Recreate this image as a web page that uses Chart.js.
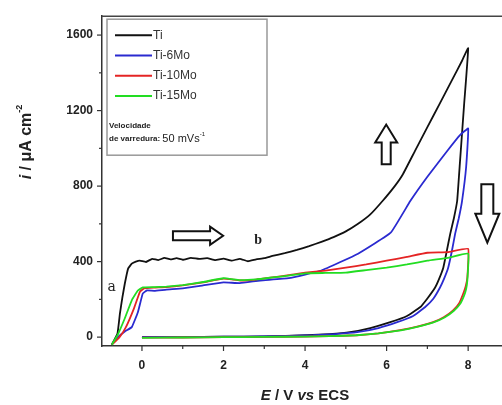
<!DOCTYPE html>
<html>
<head>
<meta charset="utf-8">
<script src="https://cdn.jsdelivr.net/npm/chart.js@4/dist/chart.umd.min.js"></script>
<style>
  html, body { margin: 0; padding: 0; background: #fff; }
  #cv { display: block; }
</style>
</head>
<body>
<canvas id="cv" width="502" height="405"></canvas>
<script>
// series names and colours
const seriesNames = ['Ti', 'Ti-6Mo', 'Ti-10Mo', 'Ti-15Mo'];
const seriesColors = ['#111111', '#2a2ad0', '#e42424', '#22dd22'];

// Ti: forward scan then reverse scan (E in V, i in uA cm-2)
const tiE = [-0.74, -0.6, -0.54, -0.48, -0.42, -0.34, -0.25, -0.15, -0.05, 0.1, 0.25, 0.4, 0.55, 0.7, 0.85, 1.0, 1.2, 1.4, 1.6, 1.8, 2.0, 2.2, 2.4, 2.6, 2.8, 3.0, 3.2, 3.5, 3.8, 4.1, 4.4, 4.7, 5.0, 5.3, 5.6, 5.9, 6.2, 6.4, 6.7, 7.0, 7.3, 7.6, 7.85, 8.0,
  7.9, 7.8, 7.73, 7.65, 7.56, 7.47, 7.39, 7.29, 7.19, 7.0, 6.82, 6.5, 6.09, 5.6, 5.1, 4.6, 4.05, 3.0, 2.0, 1.0, 0.0];
const tiI = [-40, 20, 126, 210, 284, 363, 389, 400, 405, 398, 415, 408, 420, 412, 418, 410, 420, 414, 418, 408, 416, 405, 415, 402, 412, 418, 430, 445, 462, 482, 505, 530, 560, 600, 650, 721, 800, 863, 988, 1112, 1236, 1360, 1464, 1530,
  1230, 930, 721, 630, 547, 450, 368, 310, 263, 205, 158, 112, 79, 48, 26, 16, 10, 4, 2, 0, 0];

// Ti-6Mo
const mo6E = [-0.74, -0.59, -0.42, -0.25, -0.1, 0.02, 0.12, 0.3, 0.6, 1.0, 1.5, 2.0, 2.4, 2.9, 3.6, 4.4, 5.3, 6.1, 6.58, 7.0, 7.5, 7.8, 8.0,
  7.95, 7.85, 7.77, 7.68, 7.6, 7.51, 7.41, 7.31, 7.15, 6.94, 6.65, 6.26, 5.8, 5.28, 4.75, 4.2, 3.0, 2.0, 1.0, 0.0];
const mo6I = [-40, 0, 30, 53, 132, 231, 247, 245, 252, 258, 274, 290, 286, 300, 312, 353, 442, 553, 721, 850, 990, 1070, 1105,
  900, 721, 630, 547, 455, 368, 310, 263, 205, 158, 112, 79, 48, 26, 16, 10, 4, 2, 0, 0];

// Ti-10Mo
const mo10E = [-0.74, -0.55, -0.4, -0.2, -0.05, 0.05, 0.3, 0.6, 1.0, 1.5, 2.0, 2.4, 2.8, 3.2, 3.6, 4.0, 4.5, 5.0, 5.5, 6.0, 6.5, 7.0, 7.5, 8.0,
  7.98, 7.94, 7.88, 7.78, 7.63, 7.4, 7.14, 6.75, 6.33, 5.8, 5.28, 4.6, 4.0, 3.0, 2.0, 1.0, 0.0];
const mo10I = [-40, 0, 50, 150, 240, 258, 262, 265, 274, 290, 310, 300, 305, 316, 328, 342, 352, 368, 385, 405, 425, 447, 450, 468,
  316, 270, 231, 180, 142, 105, 79, 55, 37, 20, 10, 5, 3, 1, 0, -2, -3];

// Ti-15Mo
const mo15E = [-0.74, -0.6, -0.42, -0.25, -0.1, 0.02, 0.3, 0.6, 1.0, 1.5, 2.0, 2.4, 2.8, 3.2, 3.6, 4.0, 4.5, 5.0, 5.5, 6.0, 6.5, 7.0, 7.5, 8.0,
  7.98, 7.95, 7.9, 7.8, 7.65, 7.42, 7.15, 6.75, 6.35, 5.8, 5.25, 4.6, 4.0, 3.0, 2.0, 1.0, 0.0];
const mo15I = [-40, 10, 100, 195, 247, 263, 265, 268, 276, 292, 312, 302, 306, 316, 326, 338, 340, 342, 355, 368, 385, 405, 420, 442,
  300, 255, 220, 175, 140, 104, 78, 54, 36, 20, 10, 5, 3, 1, 0, -2, -4];

// axis ticks
const xTicks = [0, 1, 2, 3, 4, 5, 6, 7, 8];
const yTicks = [0, 200, 400, 600, 800, 1000, 1200, 1400, 1600];

const allE = [tiE, mo6E, mo10E, mo15E];
const allI = [tiI, mo6I, mo10I, mo15I];

function toPoints(es, is) {
  return es.map((e, k) => ({x: e, y: is[k]}));
}

const datasets = seriesNames.map((name, k) => ({
  label: name,
  data: toPoints(allE[k], allI[k]),
  borderColor: seriesColors[k],
  backgroundColor: seriesColors[k],
  borderWidth: 1.8,
  pointRadius: 0,
  showLine: true,
  tension: 0.1,
  order: 3 - k,
}));

// hollow block arrow drawn along a direction, sizes in px
function blockArrow(ctx, x0, y0, x1, y1, shaftHalf, headHalf, headLen) {
  const dx = x1 - x0, dy = y1 - y0;
  const len = Math.hypot(dx, dy);
  const ux = dx / len, uy = dy / len;
  const nx = -uy, ny = ux;
  const hb = len - headLen;
  const p = (a, b) => [x0 + ux * a + nx * b, y0 + uy * a + ny * b];
  const pts = [p(0, -shaftHalf), p(hb, -shaftHalf), p(hb, -headHalf), p(len, 0), p(hb, headHalf), p(hb, shaftHalf), p(0, shaftHalf)];
  ctx.beginPath();
  ctx.moveTo(pts[0][0], pts[0][1]);
  for (let k = 1; k < pts.length; k++) ctx.lineTo(pts[k][0], pts[k][1]);
  ctx.closePath();
  ctx.fillStyle = '#fff';
  ctx.fill();
  ctx.lineWidth = 2;
  ctx.strokeStyle = '#111';
  ctx.stroke();
}

function drawParts(ctx, parts, x, y, align) {
  let w = 0;
  parts.forEach(p => { ctx.font = p.font; w += ctx.measureText(p.t).width; });
  let cx = align === 'center' ? x - w / 2 : x;
  parts.forEach(p => {
    ctx.font = p.font;
    ctx.fillText(p.t, cx, y + (p.dy || 0));
    cx += ctx.measureText(p.t).width;
  });
}

const decorPlugin = {
  id: 'decor',
  afterDraw(chart) {
    const ctx = chart.ctx;
    const a = chart.chartArea;
    const xs = chart.scales.x, ys = chart.scales.y;
    ctx.save();

    // top frame line
    ctx.strokeStyle = '#444';
    ctx.lineWidth = 1.5;
    ctx.beginPath();
    ctx.moveTo(a.left, a.top);
    ctx.lineTo(a.right, a.top);
    ctx.stroke();

    // tick marks, major longer than minor
    ctx.lineWidth = 1.2;
    ctx.strokeStyle = '#333';
    xTicks.forEach(v => {
      const px = xs.getPixelForValue(v);
      const l = v % 2 === 0 ? 5 : 3;
      ctx.beginPath();
      ctx.moveTo(px, a.bottom);
      ctx.lineTo(px, a.bottom + l);
      ctx.stroke();
    });
    yTicks.forEach(v => {
      const py = ys.getPixelForValue(v);
      const l = v % 400 === 0 ? 5 : 3;
      ctx.beginPath();
      ctx.moveTo(a.left, py);
      ctx.lineTo(a.left - l, py);
      ctx.stroke();
    });

    // legend box
    const lx = a.left + 5, ly = a.top + 3;
    ctx.strokeStyle = '#999';
    ctx.lineWidth = 1.5;
    ctx.strokeRect(lx, ly, 160, 136);
    ctx.textBaseline = 'middle';
    ctx.textAlign = 'left';
    seriesNames.forEach((name, k) => {
      const yy = ly + 16 + k * 20.3;
      ctx.strokeStyle = seriesColors[k];
      ctx.lineWidth = 2;
      ctx.beginPath();
      ctx.moveTo(lx + 8, yy);
      ctx.lineTo(lx + 45, yy);
      ctx.stroke();
      ctx.fillStyle = '#333';
      ctx.font = '12px Arial';
      ctx.fillText(name, lx + 46, yy);
    });
    ctx.fillStyle = '#222';
    drawParts(ctx, [{t: 'Velocidade', font: 'bold 8px Arial'}], lx + 2, ly + 107, 'left');
    drawParts(ctx, [
      {t: 'de varredura: ', font: 'bold 8px Arial'},
      {t: '50 mVs', font: '11px Arial'},
      {t: '-1', font: '6px Arial', dy: -5},
    ], lx + 2, ly + 120, 'left');

    // letters a and b
    ctx.fillStyle = '#222';
    ctx.font = '14px "DejaVu Serif", "Liberation Serif", serif';
    ctx.textAlign = 'center';
    ctx.fillText('a', xs.getPixelForValue(-0.74), ys.getPixelForValue(263));
    ctx.font = 'bold 14px "Liberation Serif", serif';
    ctx.fillText('b', xs.getPixelForValue(2.85), ys.getPixelForValue(510));
    ctx.textAlign = 'left';

    // scan direction arrows
    blockArrow(ctx, xs.getPixelForValue(0.76), ys.getPixelForValue(537), xs.getPixelForValue(1.99), ys.getPixelForValue(537), 4.5, 9, 13);
    blockArrow(ctx, xs.getPixelForValue(5.99), ys.getPixelForValue(916), xs.getPixelForValue(5.99), ys.getPixelForValue(1126), 4.5, 11, 18);
    blockArrow(ctx, xs.getPixelForValue(8.47), ys.getPixelForValue(810), xs.getPixelForValue(8.47), ys.getPixelForValue(500), 6, 12, 29);

    // axis titles
    ctx.fillStyle = '#222';
    ctx.textBaseline = 'middle';
    drawParts(ctx, [
      {t: 'E', font: 'italic bold 15px Arial'},
      {t: ' / V ', font: 'bold 15px Arial'},
      {t: 'vs', font: 'italic bold 15px Arial'},
      {t: ' ECS', font: 'bold 15px Arial'},
    ], (a.left + a.right) / 2 + 3, 396, 'center');

    ctx.translate(27, 142);
    ctx.rotate(-Math.PI / 2);
    drawParts(ctx, [
      {t: 'i', font: 'italic bold 16px Arial'},
      {t: ' / \u03bcA cm', font: 'bold 16px Arial'},
      {t: '-2', font: 'bold 9px Arial', dy: -7},
    ], 0, 0, 'center');
    ctx.restore();
  },
};

new Chart(document.getElementById('cv'), {
  type: 'scatter',
  data: {datasets},
  options: {
    responsive: false,
    animation: false,
    layout: {padding: {left: 40, top: 14, right: 0, bottom: 0}},
    plugins: {
      legend: {display: false},
      tooltip: {enabled: false},
    },
    scales: {
      x: {
        type: 'linear',
        min: -0.98,
        max: 8.83,
        afterBuildTicks: s => { s.ticks = xTicks.map(v => ({value: v})); },
        afterFit: s => { s.height = 59; },
        grid: {display: true, drawOnChartArea: false, drawTicks: false},
        border: {color: '#333', width: 1.5},
        ticks: {
          padding: 12,
          color: '#222',
          font: {family: 'Arial', size: 12, weight: 'bold'},
          maxRotation: 0,
          autoSkip: false,
          callback: v => (v % 2 === 0 ? String(v) : ''),
        },
      },
      y: {
        type: 'linear',
        min: -47,
        max: 1700,
        afterBuildTicks: s => { s.ticks = yTicks.map(v => ({value: v})); },
        afterFit: s => { s.width = 62; },
        grid: {display: true, drawOnChartArea: false, drawTicks: false},
        border: {color: '#333', width: 1.5},
        ticks: {
          padding: 9,
          color: '#222',
          font: {family: 'Arial', size: 12, weight: 'bold'},
          autoSkip: false,
          callback: v => (v % 400 === 0 ? String(v) : ''),
        },
      },
    },
  },
  plugins: [decorPlugin],
});
</script>
</body>
</html>
